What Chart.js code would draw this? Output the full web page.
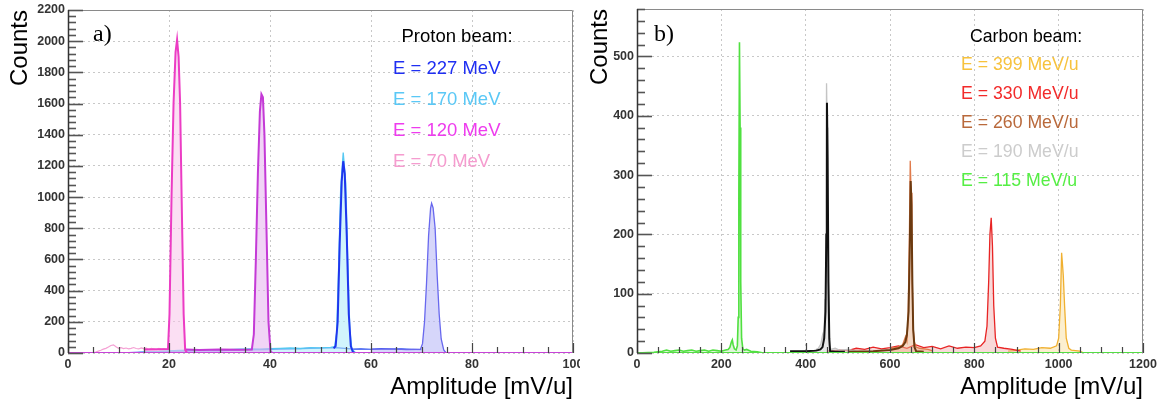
<!DOCTYPE html>
<html>
<head>
<meta charset="utf-8">
<script src="https://cdn.jsdelivr.net/npm/chart.js@4.4.1/dist/chart.umd.min.js"></script>
<style>
  html, body { margin: 0; padding: 0; background: #fff; }
  body { width: 1159px; height: 405px; position: relative; overflow: hidden; }
  #wrapA { position: absolute; left: 0; top: 0; width: 580px; height: 405px; }
  #wrapB { position: absolute; left: 580px; top: 0; width: 579px; height: 405px; }
</style>
</head>
<body>
<div id="wrapA"><canvas id="chartA" width="580" height="405"></canvas></div>
<div id="wrapB"><canvas id="chartB" width="579" height="405"></canvas></div>
<script>
// ---- a) proton beam
const protonLegend = ['E = 227 MeV', 'E = 170 MeV', 'E = 120 MeV', 'E = 70 MeV'];
const protonLegendColors = ['#1f2ff2', '#5ac8f6', '#ee3cee', '#f59ccf'];

const pinkNoiseX = [5,5.5,6,6.5,7,7.5,8,8.5,9,9.5,10,10.5,11,11.5,12,12.5,13,13.5,14,14.5,15,15.5,16,16.5,17,17.5,18,18.5,19,19.5,20];
const pinkNoiseY = [2,6,12,18,25,30,38,48,52,40,30,34,28,32,27,30,35,29,26,33,28,31,24,30,27,22,29,25,28,24,26];

const pinkPeakX = [15,18,19.8,20.1,20.5,20.9,21.3,21.6,21.9,22.2,22.5,22.9,23.2,23.6];
const pinkPeakY = [22,24,26,250,1000,1600,1930,2010,1900,1600,1000,250,20,0];

const violetPeakX = [23.3,26,30,34,36.4,36.8,37.2,37.6,38.0,38.3,38.6,38.9,39.3,39.7,40.1,40.5];
const violetPeakY = [22,20,22,21,22,120,600,1150,1550,1660,1640,1400,800,200,10,0];

const cyanX = [14,16,18,20,22,24,26,28,30,32,34,36,38,40,42,44,46,48,50,52,52.8,53.2,53.6,54.0,54.5,55.0,55.4,55.8,56.2,57];
const cyanY = [4,8,10,14,16,18,17,20,22,21,24,26,25,28,30,32,29,34,33,36,40,130,560,1060,1285,1090,600,150,25,0];

const blueNoiseX = [12,15,18,21,24,27,30,33,36,39,42,45,48,51,53,56.5,58,60,62,64,66,68,70];
const blueNoiseY = [2,5,8,10,12,15,14,18,20,22,24,27,30,32,35,25,26,24,28,25,27,24,22];

const blueFitX = [52.6,53.0,53.4,53.8,54.2,54.5,54.8,55.2,55.6,56.0,56.4,56.8];
const blueFitY = [30,45,200,700,1100,1230,1150,750,250,45,8,0];

const lavenderX = [60,64,67,69.8,70.2,70.6,71.0,71.4,71.8,72.0,72.3,72.7,73.1,73.5,73.9,74.4,74.8,75.2];
const lavenderY = [24,26,22,24,60,200,450,750,930,960,930,800,500,250,90,20,4,0];

const protonBaseX = [0, 100];
const protonBaseY = [0, 0];

// ---- b) carbon beam
const carbonLegend = ['E = 399 MeV/u', 'E = 330 MeV/u', 'E = 260 MeV/u', 'E = 190 MeV/u', 'E = 115 MeV/u'];
const carbonLegendColors = ['#f7c23c', '#f22a2a', '#b9693b', '#cccccc', '#55ee44'];

const greenX = [0,40,60,70,80,90,100,110,120,130,140,150,160,170,180,190,200,210,216,220,224,226,228,231,235,238,240,241.5,243,244.5,246,248,251,255,260,270,285,300];
const greenY = [0,1,3,5,3,4,5,3,4,5,3,4,5,3,5,4,3,5,6,9,19,22,14,7,5,12,60,260,524,380,120,25,7,5,6,3,2,0];

const grayX = [380,400,420,430,436,440,442,444,446,448,449.5,451,452.5,454,456,460,470,480,500,520];
const grayY = [2,3,4,8,15,30,22,40,90,250,455,380,250,60,12,6,8,5,6,3];

const blackX = [363,400,425,435,440,444,447,449,450.5,452,454,456,458,470,493];
const blackY = [3,3,4,6,10,25,70,200,422,330,120,25,3,2,2];

const brownFitX = [500,560,600,620,630,636,640,644,647,649,651,653,655,658,662,680];
const brownFitY = [2,3,5,8,12,18,30,70,180,290,250,120,40,10,3,2];

const tanX = [600,620,630,634,637,640,643,646,648,650,652,655,658,662,670,690,700];
const tanY = [8,10,14,22,28,20,60,200,324,270,150,40,18,10,8,6,4];

const redX = [450,480,500,520,540,560,580,600,620,640,660,680,700,720,740,760,780,800,815,825,830,834,837,840,843,846,850,855,870,890,910];
const redY = [3,5,4,8,6,10,7,9,12,8,14,9,11,7,12,8,10,9,12,20,45,120,200,228,180,80,25,10,8,6,3];

const yellowX = [880,900,920,940,960,980,995,1000,1004,1007,1009,1011,1014,1018,1024,1030,1050,1060];
const yellowY = [3,5,7,6,9,8,12,25,80,169,150,130,80,25,8,5,3,0];

const carbonBaseX = [0, 1200];
const carbonBaseY = [0, 0];

Chart.defaults.font.family = '"Liberation Sans", Arial, sans-serif';
Chart.defaults.color = '#333';

function pts(xs, ys) {
  return xs.map((x, i) => ({ x: x, y: ys[i] }));
}

function series(xs, ys, line, width, fill) {
  return {
    data: pts(xs, ys),
    borderColor: line,
    borderWidth: width,
    backgroundColor: fill || 'transparent',
    fill: fill ? 'origin' : false,
    pointRadius: 0,
    tension: 0
  };
}

// ROOT style frame, ticks pointing into the plot
const rootFrame = {
  id: 'rootFrame',
  afterDatasetsDraw(chart, args, o) {
    const ctx = chart.ctx;
    const a = chart.chartArea;
    const x = chart.scales.x;
    const y = chart.scales.y;
    ctx.save();
    ctx.strokeStyle = '#8a8a8a';
    ctx.lineWidth = 1;
    ctx.beginPath();
    ctx.moveTo(a.left, a.top + 0.5);
    ctx.lineTo(a.right - 0.5, a.top + 0.5);
    ctx.lineTo(a.right - 0.5, a.bottom);
    ctx.stroke();

    ctx.strokeStyle = '#444';
    ctx.lineWidth = 1.2;
    for (let v = x.min; v <= x.max + 1e-9; v += o.xMinor) {
      const px = Math.round(x.getPixelForValue(v)) + 0.5;
      const major = Math.abs(v / o.xMajor - Math.round(v / o.xMajor)) < 1e-6;
      ctx.beginPath();
      ctx.moveTo(px, a.bottom);
      ctx.lineTo(px, a.bottom - (major ? 10 : 6));
      ctx.stroke();
    }
    ctx.strokeStyle = '#555';
    ctx.lineWidth = 1.6;
    for (let v = y.min; v <= y.max + 1e-9; v += o.yMinor) {
      const py = Math.round(y.getPixelForValue(v)) + 0.5;
      const major = Math.abs(v / o.yMajor - Math.round(v / o.yMajor)) < 1e-6;
      ctx.beginPath();
      ctx.moveTo(a.left, py);
      ctx.lineTo(a.left + (major ? 15 : 8), py);
      ctx.stroke();
    }
    ctx.strokeStyle = '#333';
    ctx.lineWidth = 1.5;
    ctx.beginPath();
    ctx.moveTo(a.left + 0.5, a.top);
    ctx.lineTo(a.left + 0.5, a.bottom);
    ctx.stroke();
    ctx.restore();
  },
  afterDraw(chart, args, o) {
    const ctx = chart.ctx;
    ctx.save();
    ctx.fillStyle = '#000';
    ctx.font = '24px "Liberation Serif", serif';
    ctx.textBaseline = 'alphabetic';
    ctx.textAlign = 'left';
    ctx.fillText(o.panel, o.panelX, 41);
    ctx.font = o.fontSize + 'px "Liberation Sans", Arial, sans-serif';
    ctx.textBaseline = 'middle';
    ctx.textAlign = 'center';
    ctx.fillStyle = '#000';
    ctx.fillText(o.title, o.titleX, 37);
    ctx.textAlign = 'left';
    o.labels.forEach((t, i) => {
      ctx.fillStyle = o.colors[i];
      ctx.fillText(t, o.itemX, o.itemY + i * o.itemDy);
    });
    ctx.restore();
  }
};

function axes(xMax, xStep, yMax, yStep, yWidth) {
  const tickFont = { size: 12.5, weight: 'bold' };
  return {
    x: {
      type: 'linear', min: 0, max: xMax,
      ticks: { stepSize: xStep, font: tickFont, color: '#333', padding: 4, maxRotation: 0,
               callback: v => (v % xStep === 0 ? String(v) : '') },
      grid: { color: '#c8c8c8', lineWidth: 1, drawTicks: false },
      border: { display: false, dash: [2, 3] },
      title: { display: true, text: 'Amplitude [mV/u]', align: 'end', color: '#000',
               font: { size: 24 }, padding: { top: 0, bottom: 3 } },
      afterFit: s => { s.height = 52; s.paddingLeft = 0; s.paddingRight = 0; }
    },
    y: {
      min: 0, max: yMax,
      ticks: { stepSize: yStep, font: tickFont, color: '#333', padding: 3,
               callback: v => (v % yStep === 0 ? String(v) : '') },
      grid: { color: '#c8c8c8', lineWidth: 1, drawTicks: false },
      border: { display: false, dash: [2, 3] },
      title: { display: true, text: 'Counts', align: 'end', color: '#000',
               font: { size: 24 }, padding: { top: 6, bottom: 0 } },
      afterFit: s => { s.width = yWidth; s.paddingTop = 0; s.paddingBottom = 0; }
    }
  };
}

new Chart(document.getElementById('chartA'), {
  type: 'line',
  data: {
    datasets: [
      series(protonBaseX, protonBaseY, '#c844d8', 2),
      series(blueFitX, blueFitY, '#1f36ee', 2),
      series(pinkPeakX, pinkPeakY, '#ec3cc4', 2, 'rgba(248,196,234,0.55)'),
      series(violetPeakX, violetPeakY, '#c43ad6', 2, 'rgba(230,176,238,0.55)'),
      series(cyanX, cyanY, '#56c8f2', 1.3, 'rgba(178,236,250,0.6)'),
      series(lavenderX, lavenderY, '#6868ee', 1.3, 'rgba(186,186,246,0.6)'),
      series(blueNoiseX, blueNoiseY, '#2a4ef0', 1.2),
      series(pinkNoiseX, pinkNoiseY, '#f5a0d4', 1.2)
    ]
  },
  options: {
    responsive: false,
    animation: false,
    layout: { padding: { top: 10, right: 7, left: 0, bottom: 0 } },
    plugins: {
      legend: { display: false },
      tooltip: { enabled: false },
      rootFrame: {
        xMinor: 5, xMajor: 20, yMinor: 40, yMajor: 200,
        panel: 'a)', panelX: 93,
        title: 'Proton beam:', titleX: 457, fontSize: 18.5,
        labels: protonLegend, colors: protonLegendColors,
        itemX: 393, itemY: 69, itemDy: 31
      }
    },
    scales: axes(100, 20, 2200, 200, 68)
  },
  plugins: [rootFrame]
});

new Chart(document.getElementById('chartB'), {
  type: 'line',
  data: {
    datasets: [
      series(carbonBaseX, carbonBaseY, '#55dd44', 2),
      series(blackX, blackY, '#111111', 2),
      series(brownFitX, brownFitY, '#6b3a10', 2),
      series(greenX, greenY, '#50e040', 1.6, 'rgba(190,240,180,0.5)'),
      series(grayX, grayY, '#c4c4c4', 1.3, 'rgba(215,215,215,0.6)'),
      series(tanX, tanY, '#e07a4a', 1.3, 'rgba(236,180,140,0.5)'),
      series(redX, redY, '#e82424', 1.3, 'rgba(240,170,170,0.45)'),
      series(yellowX, yellowY, '#f0b030', 1.3, 'rgba(250,224,160,0.5)')
    ]
  },
  options: {
    responsive: false,
    animation: false,
    layout: { padding: { top: 9, right: 16, left: 0, bottom: 0 } },
    plugins: {
      legend: { display: false },
      tooltip: { enabled: false },
      rootFrame: {
        xMinor: 50, xMajor: 200, yMinor: 20, yMajor: 100,
        panel: 'b)', panelX: 74,
        title: 'Carbon beam:', titleX: 446, fontSize: 17.7,
        labels: carbonLegend, colors: carbonLegendColors,
        itemX: 381, itemY: 65, itemDy: 29
      }
    },
    scales: axes(1200, 200, 580, 100, 57)
  },
  plugins: [rootFrame]
});
</script>
</body>
</html>
